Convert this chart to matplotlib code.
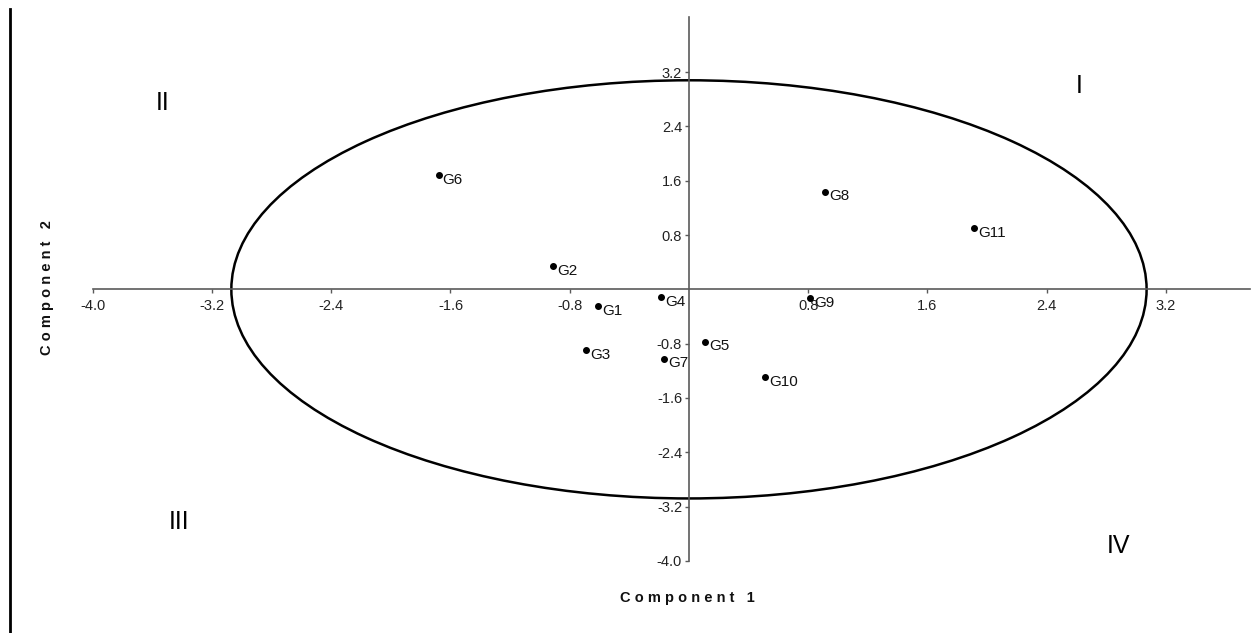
import numpy as np
import matplotlib
matplotlib.use("Agg")
import matplotlib.pyplot as plt
from matplotlib.patches import Ellipse
from matplotlib.lines import Line2D

plt.rcParams['font.family'] = ['Liberation Sans', 'DejaVu Sans']

# PCA scores
labels = ["G1", "G2", "G3", "G4", "G5", "G6", "G7", "G8", "G9", "G10", "G11"]
comp1 = [-0.61, -0.91, -0.69, -0.19, 0.11, -1.68, -0.17, 0.91, 0.81, 0.51, 1.91]
comp2 = [-0.24, 0.34, -0.89, -0.11, -0.77, 1.69, -1.02, 1.44, -0.13, -1.29, 0.90]

# confidence ellipse semi-axes
ell_rx = 3.07
ell_ry = 3.08

tick_vals = [-4.0, -3.2, -2.4, -1.6, -0.8, 0.8, 1.6, 2.4, 3.2]
quadrants = ["I", "II", "III", "IV"]

fig = plt.figure(figsize=(12.53, 6.33), dpi=100)
ax = fig.add_axes([0.074, 0.1139, 0.924, 0.859])
ax.set_xlim(-4.0, 3.767)
ax.set_ylim(-4.0, 4.01)

# axes crossing at the origin
for side in ("top", "right"):
    ax.spines[side].set_visible(False)
ax.spines["left"].set_position(("data", 0))
ax.spines["bottom"].set_position(("data", 0))
for side in ("left", "bottom"):
    ax.spines[side].set_color("#5a5a5a")
    ax.spines[side].set_linewidth(1.2)

ax.set_xticks(tick_vals)
ax.set_yticks(tick_vals)
ax.set_xticklabels([f"{v:.1f}" for v in tick_vals])
ax.set_yticklabels([f"{v:.1f}" for v in tick_vals])
ax.tick_params(direction="out", length=3, width=1, color="#5a5a5a",
               labelsize=10.5, labelcolor="#222222")
ax.tick_params(axis="x", pad=4)
ax.tick_params(axis="y", pad=2)

ax.add_patch(Ellipse((0, 0), 2 * ell_rx, 2 * ell_ry, fill=False,
                     edgecolor="black", linewidth=1.8))

ax.scatter(comp1, comp2, s=16, color="black", zorder=3)
for name, x, y in zip(labels, comp1, comp2):
    ax.annotate(name, (x, y), xytext=(3, -3.5), textcoords="offset points",
                ha="left", va="center", fontsize=11, color="#111111")

# quadrant labels
quad_pos = [(2.62, 2.99), (-3.53, 2.74), (-3.42, -3.43), (2.88, -3.78)]
for q, (qx, qy) in zip(quadrants, quad_pos):
    ax.text(qx, qy, q, fontsize=18, ha="center", va="center", color="black")

# spaced-out axis titles
fig.text(687 / 1253, 1 - 598 / 633, "C o m p o n e n t   1", fontsize=10.5,
         fontweight="bold", ha="center", va="center", color="#111111")
fig.text(47 / 1253, 1 - 288 / 633, "C o m p o n e n t   2", fontsize=10.5,
         fontweight="bold", ha="center", va="center", rotation=90, color="#111111")

# left border line from the source image
fig.add_artist(Line2D([10 / 1253, 10 / 1253], [0, 1 - 9 / 633],
                      transform=fig.transFigure, color="black", linewidth=2))

fig.savefig("out.png", dpi=100)
